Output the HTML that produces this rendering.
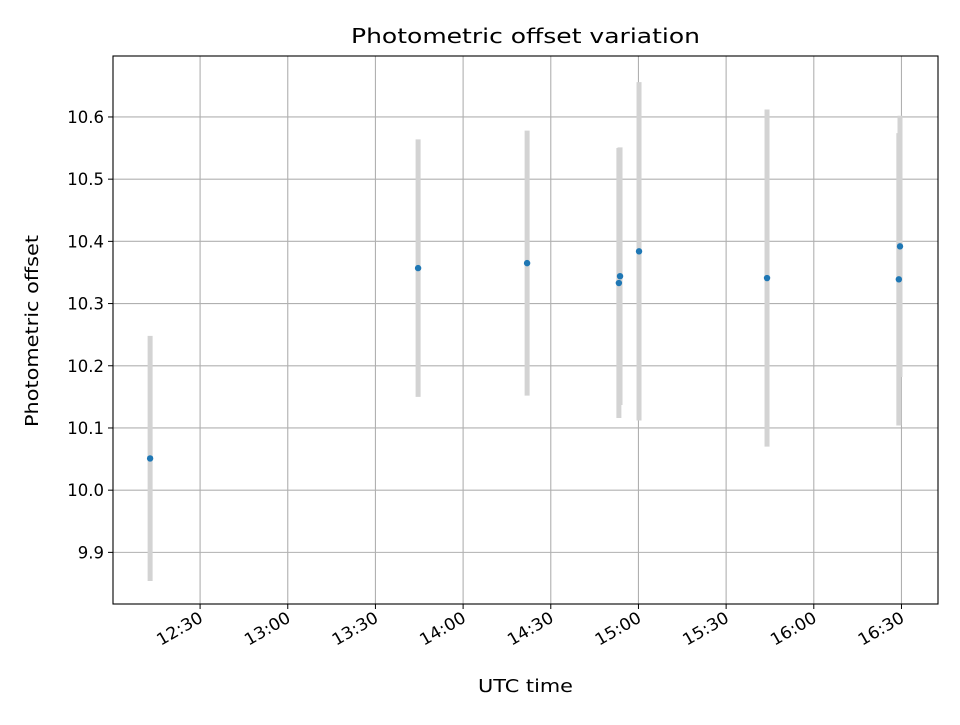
<!DOCTYPE html>
<html><head><meta charset="utf-8"><style>
body{margin:0;background:#fff}
svg text{font-family:"DejaVu Sans","Liberation Sans",sans-serif;fill:#000}
</style></head><body>
<svg id="c" width="960" height="720" xmlns="http://www.w3.org/2000/svg"></svg>
<script>
const times = [12*60+12.9, 13*60+44.6, 14*60+21.9, 14*60+53.7, 14*60+53.3, 15*60+0.2, 15*60+44, 16*60+29.5, 16*60+29.1];
const values = [10.051, 10.357, 10.365, 10.344, 10.333, 10.384, 10.341, 10.392, 10.339];
const errors = [0.197, 0.207, 0.213, 0.207, 0.217, 0.272, 0.271, 0.21, 0.235];
const xTicks = [12*60+30, 13*60, 13*60+30, 14*60, 14*60+30, 15*60, 15*60+30, 16*60, 16*60+30];
const xTickLabels = ["12:30","13:00","13:30","14:00","14:30","15:00","15:30","16:00","16:30"];
const yTicks = [9.9, 10.0, 10.1, 10.2, 10.3, 10.4, 10.5, 10.6];
const yTickLabels = ["9.9","10.0","10.1","10.2","10.3","10.4","10.5","10.6"];

const L=113,R=938,T=56,B=604;
const x0=12*60+0.2, x1=16*60+42.5, y0=9.817, y1=10.698;
const sx=v=>L+(v-x0)/(x1-x0)*(R-L);
const sy=v=>B-(v-y0)/(y1-y0)*(B-T);
const svg=document.getElementById('c');
const NS='http://www.w3.org/2000/svg';
function mk(tag,attrs,name,parent){const e=document.createElementNS(NS,tag);for(const k in attrs)e.setAttribute(k,attrs[k]);


(parent||svg).appendChild(e);return e;}
mk('rect',{x:L,y:T,width:R-L,height:B-T,fill:'#fff'},'plot-area');
xTicks.forEach((t,i)=>{const x=sx(t);
mk('line',{x1:x,x2:x,y1:T,y2:B,stroke:'#b0b0b0','stroke-width':1.1},'x-gridline');
mk('line',{x1:x,x2:x,y1:B,y2:B+5,stroke:'#000','stroke-width':1},'x-tick');
const tx=mk('text',{x:x+4,y:B+17,'font-size':16.5,'text-anchor':'end',textLength:50,lengthAdjust:'spacingAndGlyphs',transform:`rotate(-30 ${x+4} ${B+17})`},'x-tick-label');tx.textContent=xTickLabels[i];});
yTicks.forEach((t,i)=>{const y=sy(t);
mk('line',{x1:L,x2:R,y1:y,y2:y,stroke:'#b0b0b0','stroke-width':1.1},'y-gridline');
mk('line',{x1:L-5,x2:L,y1:y,y2:y,stroke:'#000','stroke-width':1},'y-tick');
const tx=mk('text',{x:L-9,y:y+6,'font-size':16.5,'text-anchor':'end'},'y-tick-label');tx.textContent=yTickLabels[i];});
times.forEach((t,i)=>{const x=sx(t);
mk('line',{x1:x,x2:x,y1:sy(values[i]+errors[i]),y2:sy(values[i]-errors[i]),stroke:'#d3d3d3','stroke-width':5},'error-bar');});
times.forEach((t,i)=>{mk('circle',{cx:sx(t),cy:sy(values[i]),r:3.2,fill:'#1f77b4'},'data-point');});
mk('rect',{x:L,y:T,width:R-L,height:B-T,fill:'none',stroke:'#000','stroke-width':1.1},'plot-frame');
let e=mk('text',{x:(L+R)/2,y:43,'font-size':20,'text-anchor':'middle',textLength:349,lengthAdjust:'spacingAndGlyphs'},'chart-title');e.textContent='Photometric offset variation';
e=mk('text',{x:(L+R)/2,y:692,'font-size':17.5,'text-anchor':'middle',textLength:95,lengthAdjust:'spacingAndGlyphs'},'x-axis-title');e.textContent='UTC time';
e=mk('text',{x:38,y:331,'font-size':17.5,'text-anchor':'middle',textLength:192,lengthAdjust:'spacingAndGlyphs',transform:`rotate(-90 38 331)`},'y-axis-title');e.textContent='Photometric offset';
</script>
</body></html>
